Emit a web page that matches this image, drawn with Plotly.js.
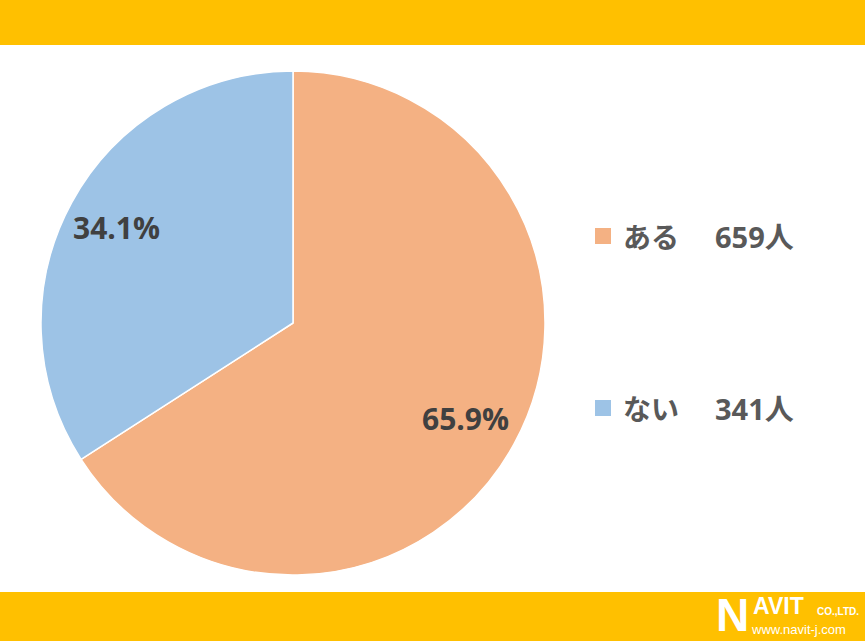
<!DOCTYPE html>
<html>
<head>
<meta charset="utf-8">
<script src="https://cdn.plot.ly/plotly-3.0.1.min.js"></script>
<style>
html,body{margin:0;padding:0;background:#fff;}
#chart{width:865px;height:641px;}
</style>
</head>
<body>
<div id="chart"></div>
<script>
const labels = ['ある', 'ない'];
const values = [659, 341];
const unit = '人';
const colors = ['#F4B183', '#9DC3E6'];

const W = 865, H = 641;
const px = x => x / W;
const py = y => 1 - y / H;

// pie geometry (layout)
const cx = 293, cy = 323, r = 252;
const total = values.reduce((a, b) => a + b, 0);

const trace = {
  type: 'pie',
  labels: labels,
  values: values,
  sort: false,
  direction: 'clockwise',
  rotation: 0,
  marker: {colors: colors, line: {color: '#ffffff', width: 1.5}},
  textinfo: 'none',
  hoverinfo: 'none',
  showlegend: false,
  domain: {x: [px(cx - r), px(cx + r)], y: [py(cy + r), py(cy - r)]}
};

const annotations = [];
const shapes = [
  {type: 'rect', xref: 'paper', yref: 'paper', x0: 0, x1: 1, y0: py(45), y1: 1, fillcolor: '#FFC000', line: {width: 0}, layer: 'below'},
  {type: 'rect', xref: 'paper', yref: 'paper', x0: 0, x1: 1, y0: 0, y1: py(592), fillcolor: '#FFC000', line: {width: 0}, layer: 'below'}
];

// percentage labels
let cum = 0;
values.forEach((v, i) => {
  const mid = (cum + v / 2) / total * 2 * Math.PI;
  cum += v;
  const lx = cx + 0.79 * r * Math.sin(mid);
  const ly = cy - 0.79 * r * Math.cos(mid);
  annotations.push({
    xref: 'paper', yref: 'paper', x: px(lx - 2), y: py(ly),
    xanchor: 'center', yanchor: 'middle', showarrow: false,
    text: (v / total * 100).toFixed(1) + '%',
    font: {family: 'Open Sans, Noto Sans, sans-serif', size: 30, color: '#404040', weight: 'bold'}
  });
});

// legend (custom)
const legendY = [236, 408];
labels.forEach((lab, i) => {
  const y = legendY[i];
  shapes.push({type: 'rect', xref: 'paper', yref: 'paper',
    x0: px(595), x1: px(611), y0: py(y + 8), y1: py(y - 8),
    fillcolor: colors[i], line: {width: 0}});
  annotations.push({
    xref: 'paper', yref: 'paper', x: px(621), y: py(y),
    xanchor: 'left', yanchor: 'middle', showarrow: false,
    text: lab,
    font: {family: 'Noto Sans CJK JP, sans-serif', size: 28, color: '#595959', weight: 'bold'}
  });
  annotations.push({
    xref: 'paper', yref: 'paper', x: px(713), y: py(y),
    xanchor: 'left', yanchor: 'middle', showarrow: false,
    text: values[i] + unit,
    font: {family: 'Open Sans, Noto Sans CJK JP, sans-serif', size: 29, color: '#595959', weight: 'bold'}
  });
});

// logo
annotations.push(
  {xref: 'paper', yref: 'paper', x: px(714), y: py(615), xanchor: 'left', yanchor: 'middle', showarrow: false,
   text: 'N', font: {family: 'Liberation Sans, Arial, sans-serif', size: 46, color: '#ffffff', weight: 'bold'}},
  {xref: 'paper', yref: 'paper', x: px(751), y: py(606), xanchor: 'left', yanchor: 'middle', showarrow: false,
   text: 'AVIT', font: {family: 'Liberation Sans, Arial, sans-serif', size: 23, color: '#ffffff', weight: 'bold'}},
  {xref: 'paper', yref: 'paper', x: px(815), y: py(611), xanchor: 'left', yanchor: 'middle', showarrow: false,
   text: 'CO.,LTD.', font: {family: 'Liberation Sans, Arial, sans-serif', size: 10, color: '#ffffff', weight: 'bold'}},
  {xref: 'paper', yref: 'paper', x: px(749), y: py(629), xanchor: 'left', yanchor: 'middle', showarrow: false,
   text: 'www.navit-j.com', font: {family: 'Liberation Sans, Arial, sans-serif', size: 13, color: '#ffffff'}}
);

const layout = {
  width: W, height: H,
  margin: {l: 0, r: 0, t: 0, b: 0},
  paper_bgcolor: '#ffffff',
  showlegend: false,
  shapes: shapes,
  annotations: annotations
};

Plotly.newPlot('chart', [trace], layout, {displayModeBar: false, staticPlot: true});
</script>
</body>
</html>
